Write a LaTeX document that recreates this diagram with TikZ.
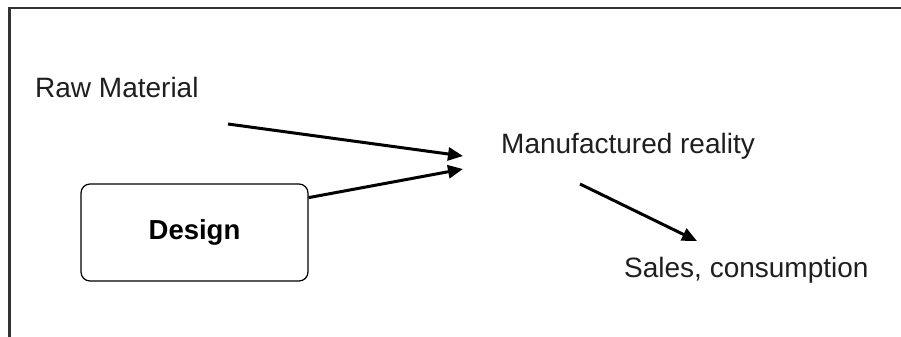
\documentclass[tikz,border=0pt]{standalone}
\usepackage{fontspec}
\setmainfont{Liberation Sans}
\usetikzlibrary{arrows.meta}
\tikzset{
  lbl/.style={inner sep=0pt, anchor=base west, text=black!88, font=\fontsize{28bp}{33bp}\selectfont},
  box/.style={draw=black, line width=1.2bp, rounded corners=9bp, minimum width=227bp, minimum height=97bp, inner sep=0pt, font=\fontsize{27.5bp}{32bp}\selectfont\bfseries},
  flow/.style={line width=3bp, -{Triangle[length=15bp,width=13bp]}},
  frame/.style={draw=black!80, line width=2.2bp}
}
\begin{document}
\begin{tikzpicture}[x=1bp,y=-1bp]
\useasboundingbox (0,0) rectangle (901,336);
\clip (0,0) rectangle (901,336);
\fill[white] (0,0) rectangle (901,336);
\draw[frame] (9.5,350) -- (9.5,8) -- (920,8);
\node[lbl] (raw) at (35,97) {Raw Material};
\node[lbl] (man) at (501,153) {Manufactured reality};
\node[lbl] (sales) at (624,277) {Sales, consumption};
\node[box] (design) at (194.5,232.5) {Design};
\coordinate (rawout) at (228,124);
\coordinate (in1) at (463,156);
\coordinate (in2) at (463,169);
\coordinate (manout) at (580,184);
\coordinate (salesin) at (697,241);
\draw[flow] (rawout) -- (in1);
\draw[flow] (design.17.4) -- (in2);
\draw[flow] (manout) -- (salesin);
\end{tikzpicture}
\end{document}
